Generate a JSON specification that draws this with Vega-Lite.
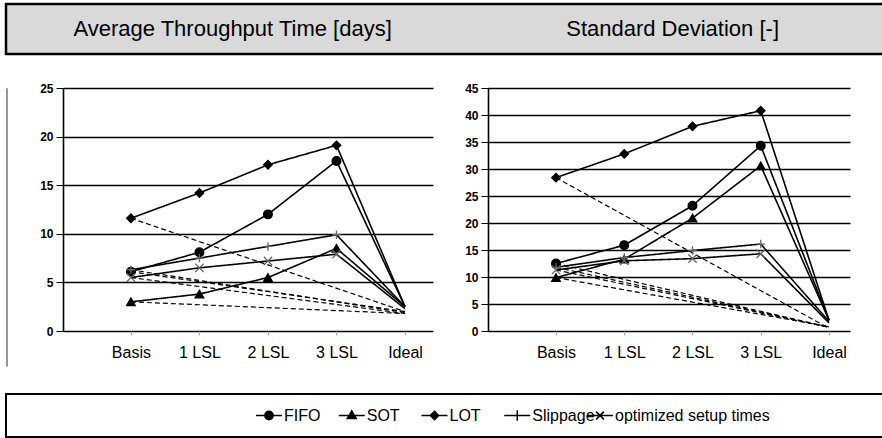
{
  "$schema": "https://vega.github.io/schema/vega-lite/v6.json",
  "background": "white",
  "padding": {"left": 4, "top": 2, "right": 0, "bottom": 0},
  "config": {"view": {"stroke": null}, "font": "Liberation Sans"},
  "datasets": {
    "titles": [
      {"panel": "Average Throughput Time [days]"},
      {"panel": "Standard Deviation [-]"}
    ],
    "legend": [
      {"series": "FIFO"}, {"series": "SOT"}, {"series": "LOT"}, {"series": "Slippage"}, {"series": "optimized setup times"}
    ],
    "throughput": [
      {"series": "FIFO", "style": "solid", "step": "Basis", "value": 6.1},
      {"series": "FIFO", "style": "solid", "step": "1 LSL", "value": 8.1},
      {"series": "FIFO", "style": "solid", "step": "2 LSL", "value": 12.0},
      {"series": "FIFO", "style": "solid", "step": "3 LSL", "value": 17.5},
      {"series": "FIFO", "style": "solid", "step": "Ideal", "value": 2.5},
      {"series": "FIFO", "style": "dashed", "step": "Basis", "value": 6.1},
      {"series": "FIFO", "style": "dashed", "step": "Ideal", "value": 2.0},
      {"series": "SOT", "style": "solid", "step": "Basis", "value": 3.0},
      {"series": "SOT", "style": "solid", "step": "1 LSL", "value": 3.8},
      {"series": "SOT", "style": "solid", "step": "2 LSL", "value": 5.5},
      {"series": "SOT", "style": "solid", "step": "3 LSL", "value": 8.5},
      {"series": "SOT", "style": "solid", "step": "Ideal", "value": 2.5},
      {"series": "SOT", "style": "dashed", "step": "Basis", "value": 3.0},
      {"series": "SOT", "style": "dashed", "step": "Ideal", "value": 1.8},
      {"series": "LOT", "style": "solid", "step": "Basis", "value": 11.6},
      {"series": "LOT", "style": "solid", "step": "1 LSL", "value": 14.2},
      {"series": "LOT", "style": "solid", "step": "2 LSL", "value": 17.1},
      {"series": "LOT", "style": "solid", "step": "3 LSL", "value": 19.1},
      {"series": "LOT", "style": "solid", "step": "Ideal", "value": 2.5},
      {"series": "LOT", "style": "dashed", "step": "Basis", "value": 11.6},
      {"series": "LOT", "style": "dashed", "step": "Ideal", "value": 2.0},
      {"series": "Slippage", "style": "solid", "step": "Basis", "value": 6.3},
      {"series": "Slippage", "style": "solid", "step": "1 LSL", "value": 7.5},
      {"series": "Slippage", "style": "solid", "step": "2 LSL", "value": 8.7},
      {"series": "Slippage", "style": "solid", "step": "3 LSL", "value": 9.9},
      {"series": "Slippage", "style": "solid", "step": "Ideal", "value": 2.5},
      {"series": "Slippage", "style": "dashed", "step": "Basis", "value": 6.3},
      {"series": "Slippage", "style": "dashed", "step": "Ideal", "value": 1.9},
      {"series": "optimized setup times", "style": "solid", "step": "Basis", "value": 5.5},
      {"series": "optimized setup times", "style": "solid", "step": "1 LSL", "value": 6.5},
      {"series": "optimized setup times", "style": "solid", "step": "2 LSL", "value": 7.2},
      {"series": "optimized setup times", "style": "solid", "step": "3 LSL", "value": 7.9},
      {"series": "optimized setup times", "style": "solid", "step": "Ideal", "value": 2.3},
      {"series": "optimized setup times", "style": "dashed", "step": "Basis", "value": 5.5},
      {"series": "optimized setup times", "style": "dashed", "step": "Ideal", "value": 1.8}
    ],
    "stddev": [
      {"series": "FIFO", "style": "solid", "step": "Basis", "value": 12.5},
      {"series": "FIFO", "style": "solid", "step": "1 LSL", "value": 15.9},
      {"series": "FIFO", "style": "solid", "step": "2 LSL", "value": 23.2},
      {"series": "FIFO", "style": "solid", "step": "3 LSL", "value": 34.3},
      {"series": "FIFO", "style": "solid", "step": "Ideal", "value": 2.0},
      {"series": "FIFO", "style": "dashed", "step": "Basis", "value": 12.5},
      {"series": "FIFO", "style": "dashed", "step": "Ideal", "value": 0.7},
      {"series": "SOT", "style": "solid", "step": "Basis", "value": 9.9},
      {"series": "SOT", "style": "solid", "step": "1 LSL", "value": 13.3},
      {"series": "SOT", "style": "solid", "step": "2 LSL", "value": 20.9},
      {"series": "SOT", "style": "solid", "step": "3 LSL", "value": 30.6},
      {"series": "SOT", "style": "solid", "step": "Ideal", "value": 2.0},
      {"series": "SOT", "style": "dashed", "step": "Basis", "value": 9.9},
      {"series": "SOT", "style": "dashed", "step": "Ideal", "value": 0.8},
      {"series": "LOT", "style": "solid", "step": "Basis", "value": 28.4},
      {"series": "LOT", "style": "solid", "step": "1 LSL", "value": 32.8},
      {"series": "LOT", "style": "solid", "step": "2 LSL", "value": 37.9},
      {"series": "LOT", "style": "solid", "step": "3 LSL", "value": 40.8},
      {"series": "LOT", "style": "solid", "step": "Ideal", "value": 2.0},
      {"series": "LOT", "style": "dashed", "step": "Basis", "value": 28.4},
      {"series": "LOT", "style": "dashed", "step": "Ideal", "value": 0.5},
      {"series": "Slippage", "style": "solid", "step": "Basis", "value": 11.8},
      {"series": "Slippage", "style": "solid", "step": "1 LSL", "value": 13.6},
      {"series": "Slippage", "style": "solid", "step": "2 LSL", "value": 14.9},
      {"series": "Slippage", "style": "solid", "step": "3 LSL", "value": 16.1},
      {"series": "Slippage", "style": "solid", "step": "Ideal", "value": 1.8},
      {"series": "Slippage", "style": "dashed", "step": "Basis", "value": 11.8},
      {"series": "Slippage", "style": "dashed", "step": "Ideal", "value": 0.7},
      {"series": "optimized setup times", "style": "solid", "step": "Basis", "value": 11.3},
      {"series": "optimized setup times", "style": "solid", "step": "1 LSL", "value": 13.0},
      {"series": "optimized setup times", "style": "solid", "step": "2 LSL", "value": 13.4},
      {"series": "optimized setup times", "style": "solid", "step": "3 LSL", "value": 14.3},
      {"series": "optimized setup times", "style": "solid", "step": "Ideal", "value": 1.5},
      {"series": "optimized setup times", "style": "dashed", "step": "Basis", "value": 11.3},
      {"series": "optimized setup times", "style": "dashed", "step": "Ideal", "value": 0.7}
    ]
  },
  "resolve": {"scale": {"shape": "independent", "size": "independent", "fill": "independent", "stroke": "independent"}},
  "spacing": 26,
  "vconcat": [
    {
      "width": 880,
      "height": 50,
      "view": {"fill": "#d9d9d9", "stroke": "black", "strokeWidth": 2.5},
      "data": {"name": "titles"},
      "mark": {"type": "text", "fontSize": 22, "color": "black", "font": "Liberation Sans"},
      "encoding": {
        "x": {"field": "panel", "type": "nominal", "axis": null,
              "scale": {"type": "point", "padding": 0.5, "align": 0.515,
                        "domain": ["Average Throughput Time [days]", "Standard Deviation [-]"]}},
        "text": {"field": "panel"}
      }
    },
    {
      "spacing": 31,
      "hconcat": [
        {
          "width": 1,
          "height": 278,
          "view": {"stroke": "#999999", "strokeWidth": 1},
          "data": {"values": [{"a": 1}]},
          "mark": {"type": "text", "text": ""}
        },
        {
          "width": 370,
          "height": 243,
          "data": {"name": "throughput"},
          "encoding": {
            "x": {"field": "step", "type": "ordinal",
                  "scale": {"type": "point", "domain": ["Basis", "1 LSL", "2 LSL", "3 LSL", "Ideal"], "padding": 0.7, "align": 0.708},
                  "axis": {"title": null, "domain": false, "grid": false, "ticks": true, "tickColor": "#aaaaaa", "tickSize": 4,
                           "labelFontSize": 16, "labelColor": "black", "labelPadding": 9, "labelAngle": 0, "labelFont": "Liberation Sans"}},
            "y": {"field": "value", "type": "quantitative",
                  "scale": {"domain": [0, 25], "nice": false},
                  "axis": {"values": [0, 5, 10, 15, 20, 25], "title": null, "grid": true, "gridColor": "black", "gridWidth": 1.6, "gridOpacity": 1,
                           "domain": true, "domainColor": "black", "domainWidth": 1.6, "ticks": true, "tickColor": "black", "tickSize": 7, "tickWidth": 1,
                           "labelPadding": 3, "labelFontSize": 12, "labelFontWeight": "bold", "labelColor": "black", "labelFont": "Liberation Sans"}}
          },
          "layer": [
            {
              "mark": {"type": "line", "color": "black"},
              "encoding": {
                "detail": [{"field": "series"}, {"field": "style"}],
                "order": {"value": null},
                "strokeDash": {"field": "style", "type": "nominal", "legend": null,
                               "scale": {"domain": ["solid", "dashed"], "range": [[1, 0], [5, 3]]}},
                "strokeWidth": {"field": "style", "type": "nominal", "legend": null,
                                "scale": {"domain": ["solid", "dashed"], "range": [1.6, 1.2]}}
              }
            },
            {
              "transform": [{"filter": "datum.style == 'solid' && datum.step != 'Ideal'"}],
              "mark": {"type": "point", "filled": true, "opacity": 1, "strokeWidth": 1.3},
              "encoding": {
                "shape": {"field": "series", "type": "nominal", "legend": null,
                          "scale": {"domain": ["FIFO", "SOT", "LOT", "Slippage", "optimized setup times"],
                                    "range": ["circle", "triangle-up", "diamond", "M-1,0H1M0,-1V1", "M-1,-1L1,1M-1,1L1,-1"]}},
                "size": {"field": "series", "type": "nominal", "legend": null,
                         "scale": {"domain": ["FIFO", "SOT", "LOT", "Slippage", "optimized setup times"], "range": [75, 70, 60, 100, 80]}},
                "fill": {"field": "series", "type": "nominal", "legend": null,
                         "scale": {"domain": ["FIFO", "SOT", "LOT", "Slippage", "optimized setup times"], "range": ["black", "black", "black", "#666666", "#666666"]}},
                "stroke": {"field": "series", "type": "nominal", "legend": null,
                           "scale": {"domain": ["FIFO", "SOT", "LOT", "Slippage", "optimized setup times"], "range": ["black", "black", "black", "#666666", "#666666"]}}
              }
            }
          ]
        },
        {
          "width": 362,
          "height": 243,
          "data": {"name": "stddev"},
          "encoding": {
            "x": {"field": "step", "type": "ordinal",
                  "scale": {"type": "point", "domain": ["Basis", "1 LSL", "2 LSL", "3 LSL", "Ideal"], "padding": 0.652, "align": 0.764},
                  "axis": {"title": null, "domain": false, "grid": false, "ticks": true, "tickColor": "#aaaaaa", "tickSize": 4,
                           "labelFontSize": 16, "labelColor": "black", "labelPadding": 9, "labelAngle": 0, "labelFont": "Liberation Sans"}},
            "y": {"field": "value", "type": "quantitative",
                  "scale": {"domain": [0, 45], "nice": false},
                  "axis": {"values": [0, 5, 10, 15, 20, 25, 30, 35, 40, 45], "title": null, "grid": true, "gridColor": "black", "gridWidth": 1.6, "gridOpacity": 1,
                           "domain": true, "domainColor": "black", "domainWidth": 1.6, "ticks": true, "tickColor": "black", "tickSize": 7, "tickWidth": 1,
                           "labelPadding": 3, "labelFontSize": 12, "labelFontWeight": "bold", "labelColor": "black", "labelFont": "Liberation Sans"}}
          },
          "layer": [
            {
              "mark": {"type": "line", "color": "black"},
              "encoding": {
                "detail": [{"field": "series"}, {"field": "style"}],
                "order": {"value": null},
                "strokeDash": {"field": "style", "type": "nominal", "legend": null,
                               "scale": {"domain": ["solid", "dashed"], "range": [[1, 0], [5, 3]]}},
                "strokeWidth": {"field": "style", "type": "nominal", "legend": null,
                                "scale": {"domain": ["solid", "dashed"], "range": [1.6, 1.2]}}
              }
            },
            {
              "transform": [{"filter": "datum.style == 'solid' && datum.step != 'Ideal'"}],
              "mark": {"type": "point", "filled": true, "opacity": 1, "strokeWidth": 1.3},
              "encoding": {
                "shape": {"field": "series", "type": "nominal", "legend": null,
                          "scale": {"domain": ["FIFO", "SOT", "LOT", "Slippage", "optimized setup times"],
                                    "range": ["circle", "triangle-up", "diamond", "M-1,0H1M0,-1V1", "M-1,-1L1,1M-1,1L1,-1"]}},
                "size": {"field": "series", "type": "nominal", "legend": null,
                         "scale": {"domain": ["FIFO", "SOT", "LOT", "Slippage", "optimized setup times"], "range": [75, 70, 60, 100, 80]}},
                "fill": {"field": "series", "type": "nominal", "legend": null,
                         "scale": {"domain": ["FIFO", "SOT", "LOT", "Slippage", "optimized setup times"], "range": ["black", "black", "black", "#666666", "#666666"]}},
                "stroke": {"field": "series", "type": "nominal", "legend": null,
                           "scale": {"domain": ["FIFO", "SOT", "LOT", "Slippage", "optimized setup times"], "range": ["black", "black", "black", "#666666", "#666666"]}}
              }
            }
          ]
        }
      ]
    },
    {
      "width": 880,
      "height": 43,
      "view": {"fill": "white", "stroke": "black", "strokeWidth": 2},
      "data": {"name": "legend"},
      "encoding": {
        "x": {"field": "series", "type": "nominal", "axis": null,
              "scale": {"type": "point", "domain": ["FIFO", "SOT", "LOT", "Slippage", "optimized setup times"], "range": [263, 594], "padding": 0}}
      },
      "layer": [
        {
          "mark": {"type": "point", "filled": true, "fill": "black", "stroke": "black", "strokeWidth": 1.5, "opacity": 1, "size": 676},
          "encoding": {
            "shape": {"field": "series", "type": "nominal", "legend": null,
                      "scale": {"domain": ["FIFO", "SOT", "LOT", "Slippage", "optimized setup times"],
                                "range": [
                                  "M-1,0H1M0.32,0A0.32,0.32,0,1,1,-0.32,0A0.32,0.32,0,1,1,0.32,0Z",
                                  "M-1,0H1M0,-0.36L0.34,0.24H-0.34Z",
                                  "M-1,0H1M0,-0.32L0.32,0L0,0.32L-0.32,0Z",
                                  "M-1,0H1M0,-0.4V0.4",
                                  "M-1,0H1M-0.3,-0.3L0.3,0.3M-0.3,0.3L0.3,-0.3"
                                ]}}
          }
        },
        {
          "mark": {"type": "text", "align": "left", "dx": 15, "fontSize": 16, "color": "black", "font": "Liberation Sans"},
          "encoding": {"text": {"field": "series"}}
        }
      ]
    }
  ]
}
